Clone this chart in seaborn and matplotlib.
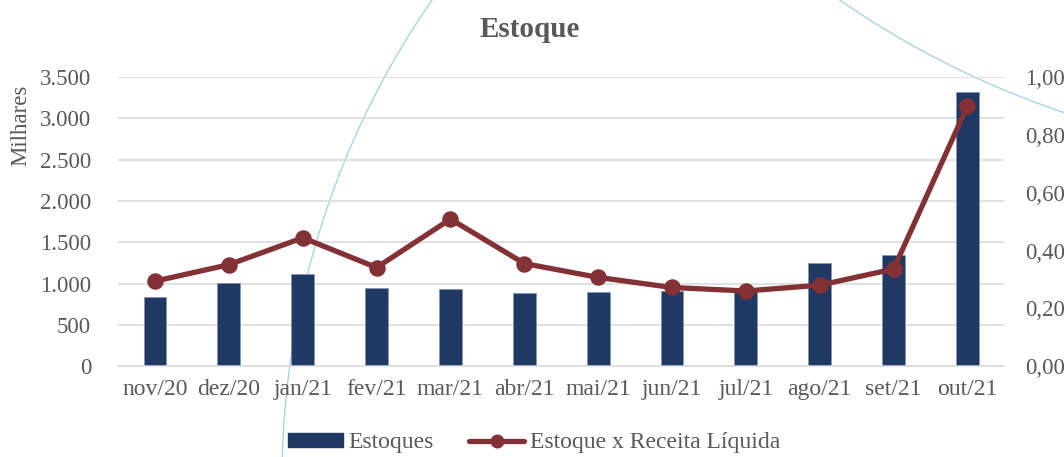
import numpy as np
import pandas as pd
import seaborn as sns
import matplotlib.pyplot as plt
from matplotlib.patches import Circle, Patch
from matplotlib.lines import Line2D
from matplotlib.ticker import FuncFormatter, FixedLocator

months = ["nov/20", "dez/20", "jan/21", "fev/21", "mar/21", "abr/21",
          "mai/21", "jun/21", "jul/21", "ago/21", "set/21", "out/21"]
estoques = [835, 1005, 1110, 944, 932, 880, 892, 911, 925, 1250, 1351, 3317]
ratio = [0.294, 0.351, 0.444, 0.341, 0.509, 0.355, 0.307, 0.272, 0.260, 0.280, 0.336, 0.901]

df = pd.DataFrame({"mes": months, "estoques": estoques, "ratio": ratio})

navy = "#203864"
wine = "#833135"
grey_txt = "#595959"
grid_c = "#D9D9D9"

sns.set_theme(style="white")
plt.rcParams["font.family"] = ["Liberation Serif", "DejaVu Serif"]

fig = plt.figure(figsize=(10.64, 4.57), dpi=100)
ax = fig.add_axes([0.111, 0.199, 0.833, 0.632])
ax.set_facecolor("none")

# decorative background arcs (pixel coords)
for cx, cy, r in [(1125, -23, 843), (1348, 1190, 892)]:
    fig.add_artist(Circle((cx, cy), r, transform=None, fill=False,
                          edgecolor="#A8D4E8", linewidth=1.0, zorder=-5))

sns.barplot(data=df, x="mes", y="estoques", color=navy, width=0.31,
            edgecolor="#8496B0", linewidth=0.5, saturation=1, ax=ax, zorder=2)
ax.set_ylim(0, 3500)
ax.set_yticks(np.arange(0, 3501, 500))
ax.yaxis.set_major_formatter(FuncFormatter(lambda v, p: f"{int(v):,}".replace(",", ".")))
ax.grid(axis="y", color=grid_c, linewidth=1.1, zorder=0)
ax.set_axisbelow(True)
ax.set_xlabel("")
ax.set_ylabel("")
for s in ["top", "right", "left"]:
    ax.spines[s].set_visible(False)
ax.spines["bottom"].set_color(grid_c)
ax.spines["bottom"].set_linewidth(1.1)
ax.tick_params(axis="y", length=0, pad=19.5, labelsize=16.5, labelcolor=grey_txt)
ax.tick_params(axis="x", which="major", length=0, pad=9, labelsize=17, labelcolor=grey_txt)
ax.xaxis.set_minor_locator(FixedLocator(np.arange(-0.5, len(months), 1)))
ax.tick_params(axis="x", which="minor", length=6, width=1.1, color=grid_c, direction="out")

ax2 = ax.twinx()
ax2.set_facecolor("none")
sns.pointplot(data=df, x="mes", y="ratio", color=wine, markers="o",
              markersize=9, linewidth=3.8, ax=ax2)
ax2.set_ylim(0, 1.0)
ax2.set_yticks(np.arange(0, 1.01, 0.2))
ax2.yaxis.set_major_formatter(FuncFormatter(lambda v, p: f"{v:.2f}".replace(".", ",")))
ax2.set_ylabel("")
ax2.set_xlabel("")
for s in ax2.spines.values():
    s.set_visible(False)
ax2.tick_params(axis="y", length=0, pad=15, labelsize=16.5, labelcolor=grey_txt)
ax.set_xlim(-0.5, len(months) - 0.5)

fig.text(0.498, 0.936, "Estoque", ha="center", va="center", fontsize=21,
         fontweight="bold", color=grey_txt)
fig.text(0.020, 0.726, "Milhares", rotation=90, ha="center", va="center",
         fontsize=16.5, color=grey_txt)

handles = [Patch(facecolor=navy, edgecolor=navy),
           Line2D([], [], color=wine, linewidth=3.8, marker="o", markersize=9)]
fig.legend(handles, ["Estoques", "Estoque x Receita Líquida"], loc="center",
           bbox_to_anchor=(0.502, 0.031), ncol=2, frameon=False, fontsize=17,
           handlelength=2.3, handleheight=0.5, handletextpad=0.25, columnspacing=1.5,
           labelcolor=grey_txt)

fig.savefig("out.png", dpi=100)
